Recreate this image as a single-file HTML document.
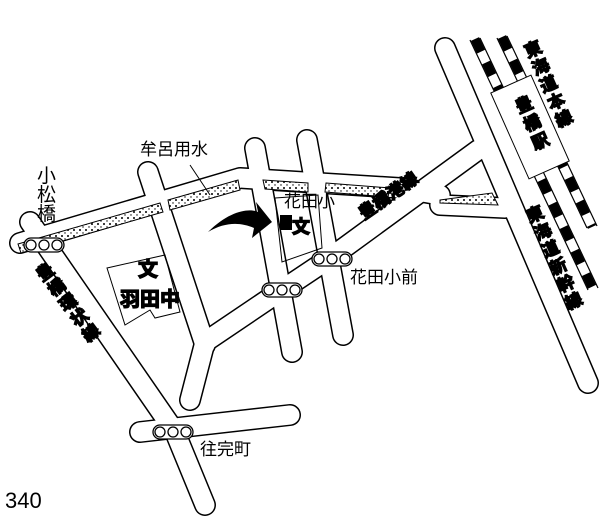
<!DOCTYPE html>
<html><head><meta charset="utf-8"><style>
html,body{margin:0;padding:0;background:#fff;}
svg{display:block;}
text{font-family:"Liberation Sans","Noto Sans CJK JP",sans-serif;fill:#000;}
.b{stroke:#000;stroke-width:1.3px;font-weight:bold;}
</style></head><body>
<svg width="615" height="520" viewBox="0 0 615 520" xmlns="http://www.w3.org/2000/svg">
<defs>
<pattern id="dots" width="6" height="6" patternUnits="userSpaceOnUse">
<rect width="6" height="6" fill="#fff"/><circle cx="2" cy="2" r="1" fill="#000"/><circle cx="5" cy="5" r="0.7" fill="#000"/>
</pattern>
</defs>
<!-- railway tracks -->
<g stroke="#000" stroke-width="1.2" fill="none">
<line x1="470" y1="40" x2="588" y2="290"/><line x1="480" y1="38" x2="598" y2="288"/>
<line x1="497" y1="38" x2="587" y2="228"/><line x1="507" y1="36" x2="597" y2="226"/>
</g>
<g stroke="#000" stroke-width="9" stroke-dasharray="14 12" fill="none">
<line x1="475" y1="39" x2="593" y2="289"/><line x1="502" y1="37" x2="592" y2="227"/>
</g>
<!-- roads outline -->
<g stroke="#000" stroke-linecap="round" stroke-linejoin="round" fill="none" stroke-width="22">
<polyline points="20,243 240,178 400,188 440,195"/>
<polyline points="440,205 505,208"/>
<polyline points="478,150 330,258 282,290 205,342 190,400"/>
<polyline points="30,222 175,432 205,505"/>
<polyline points="140,432 290,415"/>
<polyline points="148,172 205,345"/>
<polyline points="255,148 292,352"/>
<polyline points="307,140 343,335"/>
<polyline points="445,48 588,383"/>
</g>
<g stroke="#fff" stroke-linecap="round" stroke-linejoin="round" fill="none" stroke-width="19">
<polyline points="20,243 240,178 400,188 440,195"/>
<polyline points="440,205 505,208"/>
<polyline points="478,150 330,258 282,290 205,342 190,400"/>
<polyline points="30,222 175,432 205,505"/>
<polyline points="140,432 290,415"/>
<polyline points="148,172 205,345"/>
<polyline points="255,148 292,352"/>
<polyline points="307,140 343,335"/>
<polyline points="445,48 588,383"/>
</g>
<!-- canal strips -->
<g fill="url(#dots)" stroke="#000" stroke-width="1">
<polygon points="18,244 160,203 163,212 21,253"/>
<polygon points="168,200 238,180 240,190 170,210"/>
<polygon points="263,180 308,183 308,192 265,189"/>
<polygon points="326,183 390,188 388,197 325,192"/>
<polygon points="440,200 492,193 498,205 440,203"/>
</g>
<!-- school outlines -->
<polygon points="107,268 165,255 180,312 155,318 150,310 125,325" fill="none" stroke="#000" stroke-width="1"/>
<polygon points="275,198 318,195 322,248 282,262" fill="none" stroke="#000" stroke-width="1"/>
<rect x="280" y="215" width="12" height="15" fill="#000"/>
<!-- arrow -->
<path d="M208,232 C230,210 250,208 258,212 L256,202 L272,222 L252,238 L254,228 C240,222 225,222 208,232 Z" fill="#000"/>
<!-- station -->
<g transform="translate(530,127) rotate(-24)"><rect x="-22" y="-47" width="44" height="94" fill="#fff" stroke="#000" stroke-width="1"/></g>
<!-- signals -->
<g fill="#fff" stroke="#000" stroke-width="1.3">
<rect x="24" y="238" width="40" height="14" rx="7"/><circle cx="31" cy="245" r="5"/><circle cx="44" cy="245" r="5"/><circle cx="57" cy="245" r="5"/>
<rect x="312" y="252" width="40" height="14" rx="7"/><circle cx="319" cy="259" r="5"/><circle cx="332" cy="259" r="5"/><circle cx="345" cy="259" r="5"/>
<rect x="262" y="283" width="40" height="14" rx="7"/><circle cx="269" cy="290" r="5"/><circle cx="282" cy="290" r="5"/><circle cx="295" cy="290" r="5"/>
<rect x="153" y="425" width="40" height="14" rx="7"/><circle cx="160" cy="432" r="5"/><circle cx="173" cy="432" r="5"/><circle cx="186" cy="432" r="5"/>
</g>
<line x1="190" y1="165" x2="210" y2="195" stroke="#000" stroke-width="1"/>
<!-- labels -->
<text x="140" y="155" font-size="17">牟呂用水</text>
<text x="37" y="182" font-size="19">小</text><text x="37" y="201" font-size="19">松</text><text x="37" y="220" font-size="19">橋</text>
<text class="b" x="138" y="276" font-size="20">文</text>
<text class="b" x="120" y="306" font-size="20">羽田中</text>
<text x="284" y="207" font-size="17">花田小</text>
<text class="b" x="292" y="233" font-size="18">文</text>
<text x="350" y="283" font-size="17">花田小前</text>
<text x="200" y="455" font-size="17">往完町</text>
<text x="5" y="508" font-size="22">340</text>
<g font-size="17">
<g transform="translate(42,282) rotate(-37)"><text class="b" x="0" y="0">豊</text><text class="b" x="0" y="19">橋</text><text class="b" x="0" y="38">環</text><text class="b" x="0" y="57">状</text><text class="b" x="0" y="76">線</text></g>
<text class="b" transform="translate(364,220) rotate(-35)" font-size="17">豊橋港線</text>
<g transform="translate(535,55) rotate(-24)"><text class="b" x="-8" y="0">東</text><text class="b" x="-8" y="19">海</text><text class="b" x="-8" y="38">道</text><text class="b" x="-8" y="57">本</text><text class="b" x="-8" y="76">線</text></g>
<g transform="translate(537,220) rotate(-24)"><text class="b" x="-8" y="0">東</text><text class="b" x="-8" y="19">海</text><text class="b" x="-8" y="38">道</text><text class="b" x="-8" y="57">新</text><text class="b" x="-8" y="76">幹</text><text class="b" x="-8" y="95">線</text></g>
<g transform="translate(527,110) rotate(-24)"><text class="b" x="-9" y="0">豊</text><text class="b" x="-9" y="20">橋</text><text class="b" x="-9" y="40">駅</text></g>
</g>
</svg>
</body></html>
